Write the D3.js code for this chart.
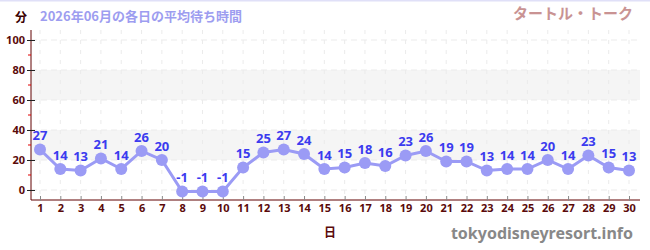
<!DOCTYPE html>
<html><head><meta charset="utf-8">
<script src="https://cdn.jsdelivr.net/npm/d3@7"></script>
<style>
html,body{margin:0;padding:0;background:#fff;}
svg{display:block;font-family:"Noto Sans CJK JP","Noto Sans",sans-serif;}
</style></head>
<body>
<svg id="c" width="650" height="250"></svg>
<script>
const days = d3.range(1, 31);
const waits = [27,14,13,21,14,26,20,-1,-1,-1,15,25,27,24,14,15,18,16,23,26,19,19,13,14,14,20,14,23,15,13];
const yTicks = [0,20,40,60,80,100];
const yMinor = [10,30,50,70,90];
const bands = [[20,40],[60,80]];
const titleText = "2026年06月の各日の平均待ち時間";
const attractionName = "タートル・トーク";
const yUnit = "分";
const xUnit = "日";
const credit = "tokyodisneyresort.info";

(function(){
const svg = d3.select("#c");
const pL = 31, pR = 640, pT = 30, pB = 200;
const x = d3.scaleLinear().domain([1, 30]).range([40, 629]);
const y = d3.scaleLinear().domain([-6.67, 106.67]).range([pB, pT]);

svg.append("rect").attr("x",0).attr("y",0).attr("width",650).attr("height",1.5).attr("fill","#e0e0f8");

svg.selectAll(".band").data(bands).join("rect")
  .attr("x", pL).attr("width", pR-pL)
  .attr("y", d=>y(d[1])).attr("height", d=>y(d[0])-y(d[1]))
  .attr("fill","#f5f5f5");

svg.selectAll(".hg").data(yTicks).join("line")
  .attr("x1", pL).attr("x2", pR).attr("y1", d=>y(d)).attr("y2", d=>y(d))
  .attr("stroke","#ebebeb").attr("stroke-dasharray","6,4");
svg.selectAll(".vg").data(days).join("line")
  .attr("x1", d=>x(d)).attr("x2", d=>x(d)).attr("y1", pT).attr("y2", pB)
  .attr("stroke","#ebebeb").attr("stroke-dasharray","4,6");

const yAxis = svg.append("g").attr("transform",`translate(${pL},0)`)
  .call(d3.axisLeft(y).tickValues(yTicks).tickSize(4).tickSizeOuter(0));
yAxis.select(".domain").attr("stroke","#600000").attr("d",`M0,${pT}V${pB}`);
yAxis.selectAll(".tick line").attr("stroke","#222").attr("x1",4).attr("x2",-4);
yAxis.selectAll(".tick text").attr("fill","#5a0a0a").attr("font-size",11).attr("font-weight","bold")
  .attr("font-family","Noto Sans, sans-serif").attr("x",-6);
svg.selectAll(".ym").data(yMinor).join("line")
  .attr("x1", pL-3).attr("x2", pL).attr("y1", d=>y(d)).attr("y2", d=>y(d))
  .attr("stroke","#e00000");

const xAxis = svg.append("g").attr("transform",`translate(0,${pB})`)
  .call(d3.axisBottom(x).tickValues(days).tickFormat(d3.format("d")).tickSize(0).tickSizeOuter(0));
xAxis.select(".domain").attr("stroke","#600000").attr("d",`M${pL},0H${pR}`);
xAxis.selectAll(".tick line").attr("stroke","#888").attr("y1",-4).attr("y2",1);
xAxis.selectAll(".tick text").attr("fill","#5a0a0a").attr("font-size",11).attr("font-weight","bold")
  .attr("font-family","Noto Sans, sans-serif").attr("dy","0.71em").attr("y",4);

const line = d3.line().x((d,i)=>x(days[i])).y(d=>y(d));
svg.append("path").datum(waits).attr("d",line).attr("fill","none")
  .attr("stroke","#9b9bf5").attr("stroke-width",3);
svg.selectAll(".pt").data(waits).join("circle")
  .attr("cx",(d,i)=>x(days[i])).attr("cy",d=>y(d)).attr("r",6).attr("fill","#9b9bf5");
svg.selectAll(".lbl").data(waits).join("text")
  .attr("x",(d,i)=>x(days[i])).attr("y",d=>y(d)-9)
  .attr("text-anchor","middle").attr("font-size",13).attr("font-weight","bold")
  .attr("font-family","Noto Sans, sans-serif").attr("fill","#3b3bef").text(d=>d);

svg.append("text").attr("x",21).attr("y",22).attr("text-anchor","middle")
  .attr("font-size",12).attr("font-weight","bold").attr("fill","#3a0000").text(yUnit);
svg.append("text").attr("x",40).attr("y",21)
  .attr("font-size",13).attr("font-weight","bold").attr("fill","#9d9df0").text(titleText);
svg.append("text").attr("x",633).attr("y",19).attr("text-anchor","end")
  .attr("font-size",15).attr("font-weight","bold").attr("fill","#c99393").text(attractionName);
svg.append("text").attr("x",330).attr("y",237).attr("text-anchor","middle")
  .attr("font-size",12).attr("font-weight","bold").attr("fill","#5a0a0a").text(xUnit);
svg.append("text").attr("x",633).attr("y",239).attr("text-anchor","end")
  .attr("font-size",16).attr("font-weight","bold").attr("font-family","Noto Sans, sans-serif")
  .attr("fill","#888").text(credit);
})();
</script>
</body></html>
